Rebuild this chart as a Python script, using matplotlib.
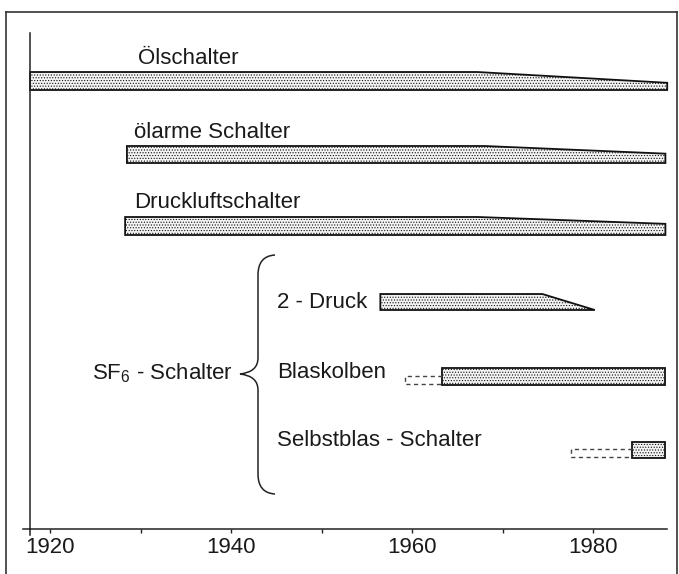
import numpy as np
import matplotlib
matplotlib.use("Agg")
import matplotlib.pyplot as plt
from matplotlib.patches import Polygon, PathPatch
from matplotlib.path import Path
from matplotlib.lines import Line2D

plt.rcParams['font.family'] = ['Liberation Sans', 'DejaVu Sans']
plt.rcParams['mathtext.fontset'] = 'custom'
plt.rcParams['mathtext.rm'] = 'Liberation Sans'
plt.rcParams['hatch.color'] = '#a8a8a8'
plt.rcParams['hatch.linewidth'] = 0.5

# data: years
names = ['Ölschalter', 'ölarme Schalter', 'Druckluftschalter',
         '2 - Druck', 'Blaskolben', 'Selbstblas - Schalter']
start = [1917.8, 1928.5, 1928.3, 1956.5, 1963.3, 1984.3]
taper = [1967.2, 1968.0, 1967.3, 1974.4, None, None]
end = [1988.2, 1988.0, 1988.0, 1980.2, 1988.0, 1988.0]
end_frac = [0.40, 0.55, 0.62, 0.0, 1.0, 1.0]  # height left at the end
dashed_start = [None, None, None, None, 1959.2, 1977.6]
group_label = 'SF$_\\mathrm{6}$ - Schalter'
major_years = [1920, 1940, 1960, 1980]
minor_years = [1930, 1950, 1970]

# layout (pixels, top-down)
W, H = 679, 574
bar_top = [72, 146, 217, 294, 368, 442]
bar_bot = [90, 163, 235, 310, 385, 458]
lab_x = [138, 134, 134, 277, 277, 277]
lab_y = [58, 132, 202, 302, 373, 441]
px_per_year = 9.05
x0_px = 50  # pixel of 1920
fs = 16


def yr(px):
    return 1920 + (px - x0_px) / px_per_year


fig = plt.figure(figsize=(W / 100, H / 100), dpi=100)
ax_l, ax_r, ax_t, ax_b = 30, 667, 33, 529
ax = fig.add_axes([ax_l / W, (H - ax_b) / H, (ax_r - ax_l) / W, (ax_b - ax_t) / H])
ax.set_xlim(yr(ax_l), yr(ax_r))
ax.set_ylim(ax_b, ax_t)
for s in ['top', 'right']:
    ax.spines[s].set_visible(False)
for s in ['left', 'bottom']:
    ax.spines[s].set_linewidth(1.1)
    ax.spines[s].set_color('#222222')
ax.set_yticks([])
ax.set_xticks(major_years)
ax.set_xticks(minor_years, minor=True)
ax.tick_params(axis='x', which='both', direction='out', length=3, width=1,
               color='#222222', labelsize=fs, pad=3, labelcolor='#1a1a1a')
# small overshoot of the axis lines
ax.plot([yr(23), yr(ax_l)], [ax_b, ax_b], color='#222222', lw=1.1, clip_on=False)
ax.plot([yr(ax_l), yr(ax_l)], [ax_b, 535], color='#222222', lw=1.1, clip_on=False)

for i, name in enumerate(names):
    t, b = bar_top[i], bar_bot[i]
    h = b - t
    if taper[i] is None:
        pts = [(start[i], b), (start[i], t), (end[i], t), (end[i], b)]
    else:
        pts = [(start[i], b), (start[i], t), (taper[i], t),
               (end[i], b - h * end_frac[i])]
        if end_frac[i] > 0:
            pts.append((end[i], b))
    ax.add_patch(Polygon(pts, closed=True, facecolor='#f3f3f3', hatch='......',
                         edgecolor='#111111', lw=1.3, clip_on=False))
    if dashed_start[i] is not None:
        dt = t + 0.45 * h
        db = t + 0.92 * h
        ax.plot([start[i], dashed_start[i], dashed_start[i], start[i]],
                [dt, dt, db, db], color='#444444', lw=1.0,
                dashes=(3, 2.5), clip_on=False)
    ax.text(yr(lab_x[i]), lab_y[i], name, fontsize=fs, ha='left', va='center',
            color='#1a1a1a', clip_on=False)

# brace for the SF6 group
bx_end, bx_mid, bx_tip = yr(275), yr(258), yr(240)
by_top, by_tip, by_bot = 255, 374, 494
verts = [(bx_end, by_top), (bx_mid, by_top + 1), (bx_mid, by_top + 20),
         (bx_mid, by_tip - 16), (bx_mid, by_tip - 2), (bx_tip, by_tip),
         (bx_mid, by_tip + 2), (bx_mid, by_tip + 16),
         (bx_mid, by_bot - 20), (bx_mid, by_bot - 1), (bx_end, by_bot)]
codes = [Path.MOVETO, Path.CURVE3, Path.CURVE3,
         Path.LINETO, Path.CURVE3, Path.CURVE3,
         Path.CURVE3, Path.CURVE3,
         Path.LINETO, Path.CURVE3, Path.CURVE3]
ax.add_patch(PathPatch(Path(verts, codes), facecolor='none', edgecolor='#222222',
                       lw=1.1, clip_on=False))
ax.text(yr(233), 373, group_label, fontsize=fs, ha='right', va='center',
        color='#1a1a1a', clip_on=False)

# outer frame
fr = dict(color='#333333', lw=1.2, transform=None)
for xs, ys in [([6, 6], [H - 12, 0]), ([6, 677], [H - 12, H - 12]), ([677, 677], [H - 12, 0])]:
    fig.add_artist(Line2D(xs, ys, **fr))

fig.savefig('out.png', dpi=100)
